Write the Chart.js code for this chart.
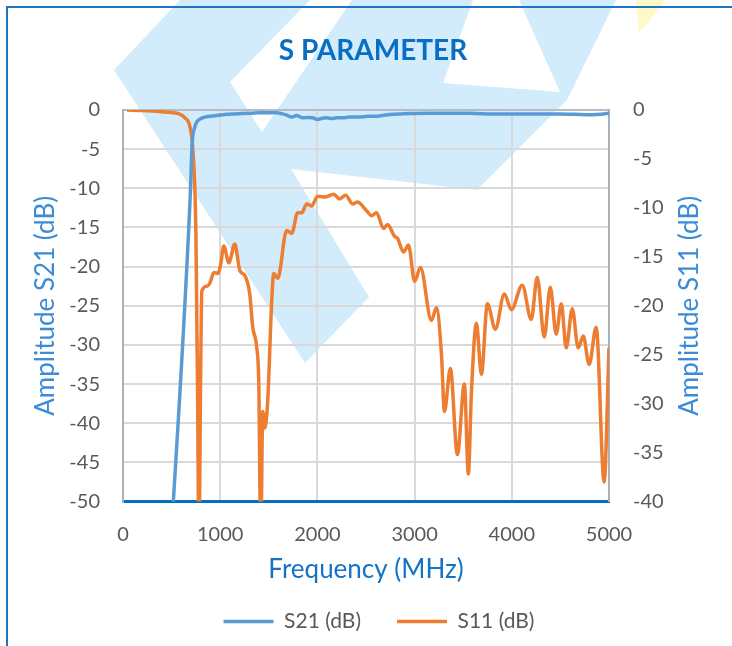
<!DOCTYPE html>
<html>
<head>
  <title>S Parameter</title>
  <script src="https://cdn.jsdelivr.net/npm/chart.js"></script>
  <style>
    html, body { margin: 0; padding: 0; background: #fff; overflow: hidden; }
    #wrap { position: relative; width: 732px; height: 646px; }
  </style>
</head>
<body>
  <div id="wrap"><canvas id="chart" width="732" height="646"></canvas></div>
  <script>
    // S21 (insertion), MHz / dB (left axis)
    const freqS21 = [440, 690, 712, 735, 760, 800, 893, 1000, 1068, 1150, 1232, 1320, 1407, 1500, 1582, 1640, 1684, 1736, 1787, 1849, 1900, 1951, 2003, 2050, 2095, 2150, 2198, 2260, 2331, 2434, 2520, 2609, 2700, 2773, 2860, 2948, 3122, 3300, 3461, 3630, 3800, 3980, 4149, 4300, 4488, 4650, 4827, 4920, 5000];
    const s21 = [-66, -11.5, -4.2, -2.3, -1.5, -1.1, -0.8, -0.65, -0.55, -0.5, -0.45, -0.4, -0.35, -0.35, -0.35, -0.5, -0.65, -0.9, -0.7, -1.0, -0.95, -1.0, -1.2, -1.05, -1.0, -1.1, -1.0, -1.0, -0.9, -0.9, -0.8, -0.8, -0.65, -0.55, -0.5, -0.45, -0.4, -0.4, -0.4, -0.45, -0.5, -0.5, -0.5, -0.5, -0.5, -0.55, -0.6, -0.55, -0.4];

    // S11 (return loss), MHz / dB (right axis)
    const freqS11 = [41, 200, 431, 565, 637, 688, 719, 750, 768, 782, 796, 811, 863, 893, 935, 976, 1006, 1037, 1089, 1150, 1202, 1253, 1304, 1335, 1376, 1397, 1417, 1438, 1459, 1489, 1530, 1551, 1592, 1684, 1736, 1797, 1840, 1890, 1941, 2003, 2075, 2167, 2229, 2290, 2362, 2413, 2506, 2557, 2608, 2680, 2722, 2793, 2824, 2886, 2937, 3000, 3060, 3173, 3224, 3276, 3307, 3368, 3440, 3512, 3553, 3584, 3636, 3687, 3749, 3831, 3923, 3995, 4108, 4200, 4262, 4334, 4396, 4457, 4509, 4560, 4622, 4683, 4735, 4796, 4868, 4950, 5000];
    const s11 = [0, -0.05, -0.2, -0.35, -0.8, -1.7, -4.1, -12.6, -30, -46, -30, -18.5, -18, -17.7, -16.6, -16.7, -15.7, -13.9, -15.6, -13.7, -16.4, -16.9, -18.8, -22.2, -24.3, -28, -44, -30.8, -32.5, -29.7, -19.5, -16.7, -17.2, -12.3, -12.6, -10.5, -10.5, -9.6, -9.8, -8.8, -8.9, -8.6, -9.1, -8.7, -9.6, -9.4, -10.3, -10.8, -10.5, -12.1, -11.7, -12.9, -13.1, -14.5, -13.8, -17.5, -16.1, -21.5, -20.2, -24.9, -30.8, -26.4, -35.2, -28, -37.2, -29, -21.8, -27, -19.8, -22.4, -18.8, -20.4, -17.9, -21.4, -17.1, -23.2, -18.1, -22.9, -19.8, -24.3, -20.3, -24.3, -23.1, -26, -22.2, -38, -24.3];

    // background logo watermark
    const logoBlue = [
      [[114, 70], [180, 0], [310, 0], [230, 82], [262, 132], [352, 0], [473, 0], [443, 83], [560, 92], [519, 0], [616, 0], [567, 100], [477, 190], [291, 169], [369, 297], [305, 363]]
    ];
    const logoYellow = [[[636, 0], [666, 0], [639, 33]]];

    const FONT = 'Lato';
    const TICK = '#595959';

    const backdrop = {
      id: 'backdrop',
      afterLayout(chart) {
        // centre the legend row a little right, as in the original sheet
        chart.legend.left += 6;
        chart.legend.right += 6;
      },
      beforeDraw(chart) {
        const ctx = chart.ctx;
        ctx.save();
        ctx.fillStyle = '#ffffff';
        ctx.fillRect(0, 0, chart.width, chart.height);
        const fillPolys = (polys, color) => {
          ctx.fillStyle = color;
          polys.forEach(p => {
            ctx.beginPath();
            p.forEach(([x, y], i) => i ? ctx.lineTo(x, y) : ctx.moveTo(x, y));
            ctx.closePath();
            ctx.fill();
          });
        };
        fillPolys(logoBlue, '#D2ECFB');
        fillPolys(logoYellow, '#FFF9C8');
        ctx.strokeStyle = '#1F73C1';
        ctx.lineWidth = 2;
        ctx.beginPath();
        ctx.moveTo(7, 700);
        ctx.lineTo(7, 7);
        ctx.lineTo(760, 7);
        ctx.stroke();
        ctx.restore();
      }
    };

    // right axis title reads bottom-to-top like the left one
    const rightTitle = {
      id: 'rightTitle',
      afterDraw(chart) {
        const ctx = chart.ctx;
        const area = chart.chartArea;
        ctx.save();
        ctx.translate(690, (area.top + area.bottom) / 2);
        ctx.rotate(-Math.PI / 2);
        ctx.font = '26px ' + FONT;
        ctx.fillStyle = '#3B8BD6';
        ctx.textAlign = 'center';
        ctx.textBaseline = 'middle';
        ctx.fillText('Amplitude S11 (dB)', 0, 0);
        ctx.restore();
      }
    };

    const toPoints = (xs, ys) => xs.map((x, i) => ({ x: x, y: ys[i] }));

    new Chart(document.getElementById('chart'), {
      type: 'line',
      data: {
        datasets: [
          {
            label: 'S21 (dB)',
            data: toPoints(freqS21, s21),
            yAxisID: 'y',
            borderColor: '#5B9BD5',
            backgroundColor: '#5B9BD5',
            borderWidth: 3.5,
            pointRadius: 0,
            cubicInterpolationMode: 'monotone'
          },
          {
            label: 'S11 (dB)',
            data: toPoints(freqS11, s11),
            yAxisID: 'y2',
            borderColor: '#ED7D31',
            backgroundColor: '#ED7D31',
            borderWidth: 3.5,
            pointRadius: 0,
            cubicInterpolationMode: 'monotone'
          }
        ]
      },
      options: {
        responsive: false,
        animation: false,
        layout: { padding: { left: 14, right: 0, top: 0, bottom: 4 } },
        plugins: {
          title: {
            display: true,
            text: 'S PARAMETER',
            color: '#0A6FC2',
            font: { family: FONT, size: 28, weight: 'bold' },
            padding: { top: 34, bottom: 42.4 }
          },
          legend: {
            position: 'bottom',
            labels: {
              usePointStyle: true,
              pointStyle: 'line',
              pointStyleWidth: 50,
              padding: 36,
              color: TICK,
              font: { family: FONT, size: 21 }
            }
          },
          tooltip: { enabled: false }
        },
        scales: {
          x: {
            type: 'linear',
            min: 0,
            max: 5000,
            ticks: {
              stepSize: 1000,
              padding: 21,
              color: TICK,
              font: { family: FONT, size: 20 },
              callback: v => String(v)
            },
            grid: { color: '#D9D9D9', lineWidth: 2, drawTicks: false },
            border: { color: '#0070C0', width: 3 },
            title: {
              display: true,
              text: 'Frequency (MHz)',
              color: '#1473C6',
              font: { family: FONT, size: 26, lineHeight: 1 },
              padding: { top: 0, bottom: -8 }
            },
            afterFit: s => { s.height = 73.5; }
          },
          y: {
            position: 'left',
            min: -50,
            max: 0,
            ticks: {
              stepSize: 5,
              padding: 23,
              color: TICK,
              font: { family: FONT, size: 20 },
              callback: v => String(v)
            },
            grid: {
              color: c => c.tick && c.tick.value === 0 ? '#B4BDC6' : '#D9D9D9',
              lineWidth: 2,
              drawTicks: false
            },
            border: { color: '#A9B1BA', width: 2 },
            title: {
              display: true,
              text: 'Amplitude S21 (dB)',
              color: '#3B8BD6',
              font: { family: FONT, size: 26 },
              padding: { top: 16.4, bottom: 0 }
            },
            afterFit: s => { s.width = 109; }
          },
          y2: {
            position: 'right',
            min: -40,
            max: 0,
            ticks: {
              stepSize: 5,
              padding: 24,
              color: TICK,
              font: { family: FONT, size: 20 },
              callback: v => String(v)
            },
            grid: { drawOnChartArea: false, drawTicks: false },
            border: { color: '#A9B1BA', width: 2 },
            afterFit: s => { s.width = 123; }
          }
        }
      },
      plugins: [backdrop, rightTitle]
    });
  </script>
</body>
</html>
